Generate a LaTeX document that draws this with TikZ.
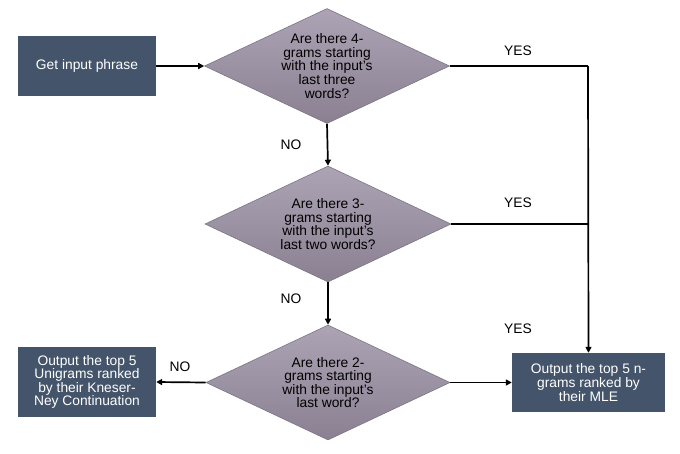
\documentclass[tikz,border=0pt]{standalone}
\usepackage{fontspec}
\setmainfont{Liberation Sans}
\usetikzlibrary{shapes.geometric,arrows.meta}
\definecolor{boxc}{HTML}{44546A}
\definecolor{diatop}{HTML}{ACA4B4}
\definecolor{diabot}{HTML}{8A8092}
\definecolor{diaedge}{HTML}{7C7483}
\tikzset{
  txt/.style={font=\fontsize{13.8}{13.6}\selectfont, align=center, inner sep=0pt},
  procbox/.style={rectangle, fill=boxc, text=white, txt},
  decide/.style={diamond, draw=diaedge, line width=0.6pt, top color=diatop, bottom color=diabot, inner sep=0pt, aspect=2.13},
  dtext/.style={txt, text=black},
  lbl/.style={txt, text=black},
  conn/.style={line width=1.7pt, black},
  arr/.style={conn, -{Triangle[length=6pt,width=6pt]}}
}
\begin{document}
\begin{tikzpicture}[x=1pt,y=-1pt]
\useasboundingbox[fill=white] (0,0) rectangle (680,453);
% process boxes
\node[procbox, minimum width=138pt, minimum height=60pt] (start) at (87,66) {Get input phrase};
\node[procbox, minimum width=138pt, minimum height=70pt] (uni) at (87,382) {Output the top 5\\Unigrams ranked\\by their Kneser-\\Ney Continuation};
\node[procbox, minimum width=153pt, minimum height=59pt] (mle) at (588.5,382.5) {Output the top 5 n-\\grams ranked by\\their MLE};
% decisions
\node[decide, minimum width=245pt, minimum height=115pt] (d1) at (327,66) {};
\node[dtext] (t1) at (d1) {Are there 4-\\grams starting\\with the input's\\last three\\words?};
\node[decide, minimum width=246pt, minimum height=116pt] (d2) at (328,224) {};
\node[dtext] (t2) at (d2) {Are there 3-\\grams starting\\with the input's\\last two words?};
\node[decide, minimum width=244pt, minimum height=115pt] (d3) at (328,382.5) {};
\node[dtext] (t3) at (d3) {Are there 2-\\grams starting\\with the input's\\last word?};
% junctions
\coordinate (j1) at (588,66);
\coordinate (j2) at (588,224);
% connectors
\draw[arr] (start) -- (d1.west);
\draw[arr] (d1.south) -- (d2.north);
\draw[arr] (d2.south) -- (d3.north);
\draw[arr] (d3.west) -- (uni.east);
\draw[arr] (d3.east) -- (mle.west);
\draw[conn] (d1.east) -- (j1);
\draw[arr] (j1) -- (mle.north);
\draw[conn] (d2.east) -- (j2);
% labels
\node[lbl] (y1) at (518,51) {YES};
\node[lbl] (y2) at (518,203) {YES};
\node[lbl] (y3) at (518,329) {YES};
\node[lbl] (n1) at (291,145) {NO};
\node[lbl] (n2) at (291,299) {NO};
\node[lbl] (n3) at (180,367) {NO};
\end{tikzpicture}
\end{document}
